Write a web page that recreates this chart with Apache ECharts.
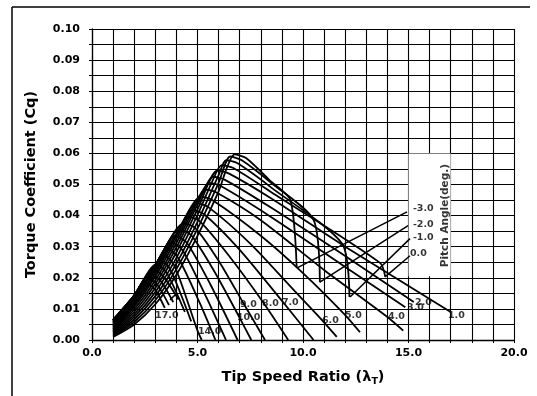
<!DOCTYPE html>
<html><head><meta charset="utf-8">
<script src="https://cdn.jsdelivr.net/npm/echarts@6/dist/echarts.min.js"></script>
<style>html,body{margin:0;padding:0;background:#fff}#c{width:537px;height:396px}</style>
</head><body><div id="c"></div>
<script>
// Tick labels
const xTickLabels = [0, 5, 10, 15, 20];
const yTickLabels = [0.00, 0.01, 0.02, 0.03, 0.04, 0.05, 0.06, 0.07, 0.08, 0.09, 0.10];

// Pitch angle curves: [tip speed ratio, torque coefficient]
const pitchM3 = [[1.0,0.0010],[2.0,0.0050],[3.0,0.0115],[4.0,0.0210],[5.0,0.0335],[6.0,0.0478],[6.4,0.0555],[6.75,0.0597],[7.3,0.0585],[8.4,0.0515],[9.4,0.0450],[9.7,0.0232]];
const pitchM2 = [[1.0,0.0013],[2.0,0.0058],[3.0,0.0128],[4.0,0.0228],[5.0,0.0358],[6.0,0.0505],[6.55,0.0590],[7.1,0.0578],[8.5,0.0505],[10.5,0.0386],[10.8,0.0186]];
const pitchM1 = [[1.0,0.0016],[2.0,0.0066],[3.0,0.0141],[4.0,0.0246],[5.0,0.0380],[6.0,0.0530],[6.35,0.0578],[6.9,0.0568],[8.5,0.0490],[11.85,0.0310],[12.2,0.0138]];
const pitch0 = [[1.0,0.0019],[2.0,0.0074],[3.0,0.0154],[4.0,0.0264],[5.0,0.0402],[5.7,0.0510],[6.15,0.0562],[6.7,0.0553],[8.5,0.0475],[13.65,0.0248],[13.9,0.0203]];
const pitch1 = [[1.0,0.0022],[2.0,0.0082],[3.0,0.0167],[4.0,0.0282],[5.0,0.0420],[5.95,0.0545],[6.5,0.0535],[8.5,0.0455],[12.0,0.0300],[17.0,0.0090]];
const pitch2 = [[1.0,0.0025],[2.0,0.0090],[3.0,0.0180],[4.0,0.0298],[5.0,0.0435],[5.75,0.0525],[6.3,0.0515],[8.5,0.0425],[12.0,0.0270],[15.25,0.0122]];
const pitch3 = [[1.0,0.0028],[2.0,0.0098],[3.0,0.0192],[4.0,0.0312],[5.0,0.0445],[5.55,0.0505],[6.1,0.0495],[8.5,0.0395],[12.0,0.0235],[14.85,0.0105]];
const pitch4 = [[1.0,0.0031],[2.0,0.0106],[3.0,0.0204],[4.0,0.0325],[5.0,0.0452],[5.35,0.0484],[5.9,0.0474],[8.0,0.0385],[11.0,0.0225],[14.0,0.0074],[14.75,0.0030]];
const pitch5 = [[1.0,0.0034],[2.0,0.0113],[3.0,0.0214],[4.0,0.0335],[5.15,0.0461],[5.7,0.0450],[8.0,0.0335],[10.0,0.0215],[12.0,0.0080],[12.7,0.0025]];
const pitch6 = [[1.0,0.0037],[2.0,0.0120],[3.0,0.0222],[4.0,0.0338],[4.95,0.0440],[5.5,0.0428],[7.5,0.0310],[9.5,0.0165],[10.9,0.0064],[11.6,0.0010]];
const pitch7 = [[1.0,0.0040],[2.0,0.0127],[3.0,0.0230],[4.0,0.0340],[4.75,0.0418],[5.3,0.0405],[7.0,0.0290],[9.05,0.0122],[10.5,0.0000]];
const pitch8 = [[1.0,0.0043],[2.0,0.0133],[3.0,0.0236],[4.0,0.0340],[4.55,0.0396],[5.1,0.0382],[6.5,0.0270],[8.1,0.0122],[9.3,0.0000]];
const pitch9 = [[1.0,0.0046],[2.0,0.0138],[3.0,0.0239],[4.35,0.0375],[4.9,0.0360],[6.0,0.0255],[7.17,0.0119],[8.2,0.0000]];
const pitch10 = [[1.0,0.0049],[2.0,0.0141],[3.0,0.0240],[4.15,0.0355],[4.7,0.0337],[5.8,0.0220],[7.0,0.0071],[7.55,0.0000]];
const pitch11 = [[1.0,0.0052],[2.0,0.0142],[3.0,0.0240],[3.95,0.0335],[4.5,0.0312],[5.6,0.0180],[6.9,0.0000]];
const pitch12 = [[1.0,0.0055],[2.0,0.0142],[3.0,0.0240],[3.75,0.0315],[4.3,0.0288],[5.4,0.0140],[6.35,0.0000]];
const pitch13 = [[1.0,0.0057],[2.0,0.0143],[3.0,0.0240],[3.55,0.0295],[4.1,0.0262],[5.1,0.0120],[5.85,0.0000]];
const pitch14 = [[1.0,0.0059],[2.0,0.0143],[3.0,0.0240],[3.35,0.0275],[3.9,0.0240],[5.0,0.0030],[5.2,0.0000]];
const pitch15 = [[1.0,0.0061],[2.0,0.0143],[3.0,0.0240],[3.2,0.0258],[3.7,0.0228],[4.7,0.0060]];
const pitch16 = [[1.0,0.0063],[2.0,0.0143],[3.05,0.0244],[3.55,0.0215],[4.4,0.0090]];
const pitch17 = [[1.0,0.0064],[2.0,0.0143],[2.9,0.0229],[3.4,0.0203],[4.1,0.0130]];
const pitch18 = [[1.0,0.0065],[2.0,0.0143],[2.75,0.0214],[3.25,0.0190],[3.85,0.0122]];
const pitch19 = [[1.0,0.0065],[2.0,0.0143],[2.6,0.0200],[3.1,0.0177],[3.65,0.0112]];
const pitch20 = [[1.0,0.0065],[2.0,0.0143],[2.45,0.0186],[2.95,0.0165],[3.45,0.0103]];

const pitchCurves = [pitchM3,pitchM2,pitchM1,pitch0,pitch1,pitch2,pitch3,pitch4,pitch5,pitch6,pitch7,pitch8,pitch9,pitch10,pitch11,pitch12,pitch13,pitch14,pitch15,pitch16,pitch17,pitch18,pitch19,pitch20];

// In-plot curve labels
const curveLabels = ['17.0','14.0','10.0','9.0','8.0','7.0','6.0','5.0','4.0','3.0','2.0','1.0'];
const curveLabelPos = [[2.99,0.0080],[5.02,0.0026],[6.87,0.0071],[7.01,0.0113],[8.06,0.0116],[9.0,0.0119],[10.9,0.0064],[11.99,0.0080],[14.03,0.0074],[14.93,0.0103],[15.31,0.0122],[16.87,0.0079]];

// Legend-side labels with leader lines
const legendLabels = ['-3.0','-2.0','-1.0','0.0'];
const legendLabelPos = [[15.21,0.0424],[15.21,0.0370],[15.21,0.0328],[15.07,0.0277]];
const leaderFrom = [[14.93,0.0412],[14.98,0.0368],[15.07,0.0326],[15.07,0.0271]];
const leaderTo = [[9.72,0.0232],[10.8,0.0186],[12.23,0.0138],[13.89,0.0203]];
const tickLeaderFrom = [[3.7,0.0129]];
const tickLeaderTo = [[3.93,0.0145]];

const legendBoxLow = [15, 0.0205];
const legendBoxHigh = [17, 0.060];
const legendTitle = 'Pitch Angle(deg.)';
const legendTitlePos = [16.72, 0.0400];

const chart = echarts.init(document.getElementById('c'), null, {renderer: 'canvas'});
const FONT = 'DejaVu Sans';
const series = [];

series.push({
  type: 'line', data: [], z: 1, silent: true,
  markArea: {silent: true, itemStyle: {color: '#fff', opacity: 1},
    data: [[{coord: legendBoxLow}, {coord: legendBoxHigh}]]}
});

pitchCurves.forEach(function (c) {
  series.push({
    type: 'line', data: c, smooth: 0.25, showSymbol: false, symbol: 'none', z: 2,
    lineStyle: {color: '#000', width: 1.8}, silent: true
  });
});

const leaderData = leaderFrom.map(function (p, i) { return [{coord: p}, {coord: leaderTo[i]}]; });
const tickData = tickLeaderFrom.map(function (p, i) { return [{coord: p}, {coord: tickLeaderTo[i]}]; });
series.push({
  type: 'line', data: [], z: 3, silent: true,
  markLine: {silent: true, symbol: ['none', 'arrow'], symbolSize: [0, 7], animation: false,
    label: {show: false}, lineStyle: {color: '#000', width: 1.5, type: 'solid'},
    data: leaderData}
});
series.push({
  type: 'line', data: [], z: 3, silent: true,
  markLine: {silent: true, symbol: ['none', 'none'], animation: false,
    label: {show: false}, lineStyle: {color: '#000', width: 1.5, type: 'solid'},
    data: tickData}
});

const labelData = curveLabelPos.map(function (p, i) { return {value: p, name: curveLabels[i]}; })
  .concat(legendLabelPos.map(function (p, i) { return {value: p, name: legendLabels[i]}; }));
series.push({
  type: 'scatter', data: labelData, symbolSize: 0, z: 4, silent: true,
  label: {show: true, position: 'right', distance: 0, formatter: '{b}', color: '#000',
    fontFamily: FONT, fontWeight: 'bold', fontSize: 9.5}
});
series.push({
  type: 'scatter', data: [{value: legendTitlePos, name: legendTitle}], symbolSize: 0, z: 4, silent: true,
  label: {show: true, position: 'inside', rotate: 90, formatter: '{b}', color: '#000',
    fontFamily: FONT, fontWeight: 'bold', fontSize: 10.5}
});

chart.setOption({
  animation: false,
  backgroundColor: '#fff',
  grid: {left: 92, right: 23, top: 29, bottom: 56},
  graphic: [
    {type: 'line', shape: {x1: 12, y1: 7, x2: 530, y2: 7}, style: {stroke: '#000', lineWidth: 1.5}},
    {type: 'line', shape: {x1: 12, y1: 7, x2: 12, y2: 396}, style: {stroke: '#000', lineWidth: 1.5}}
  ],
  xAxis: {
    type: 'value', min: 0, max: 20, interval: 1,
    name: 'Tip Speed Ratio (λ{sub|T})', nameLocation: 'middle', nameGap: 27,
    nameTextStyle: {fontFamily: FONT, fontWeight: 'bold', fontSize: 14.5, color: '#000',
      rich: {sub: {fontFamily: FONT, fontWeight: 'bold', fontSize: 9.5, color: '#000', padding: [10, 0, 0, 0]}}},
    axisLine: {show: true, lineStyle: {color: '#000', width: 1.3}},
    axisTick: {show: true, length: 3, lineStyle: {color: '#000'}},
    splitLine: {show: true, lineStyle: {color: '#000', width: 1.1}},
    axisLabel: {color: '#000', fontFamily: FONT, fontWeight: 'bold', fontSize: 11, margin: 8,
      formatter: function (v) { return xTickLabels.indexOf(Math.round(v * 1000) / 1000) >= 0 ? v.toFixed(1) : ''; }}
  },
  yAxis: {
    type: 'value', min: 0, max: 0.1, interval: 0.005,
    name: 'Torque Coefficient (Cq)', nameLocation: 'middle', nameGap: 53, nameRotate: 90,
    nameTextStyle: {fontFamily: FONT, fontWeight: 'bold', fontSize: 14.5, color: '#000'},
    axisLine: {show: true, lineStyle: {color: '#000', width: 1.3}},
    axisTick: {show: true, length: 3, lineStyle: {color: '#000'}},
    splitLine: {show: true, lineStyle: {color: '#000', width: 1.1}},
    axisLabel: {color: '#000', fontFamily: FONT, fontWeight: 'bold', fontSize: 11, margin: 12,
      formatter: function (v) {
        const r = Math.round(v * 1000) / 1000;
        return yTickLabels.some(function (t) { return Math.abs(t - r) < 1e-9; }) ? r.toFixed(2) : '';
      }}
  },
  series: series
});
</script></body></html>
